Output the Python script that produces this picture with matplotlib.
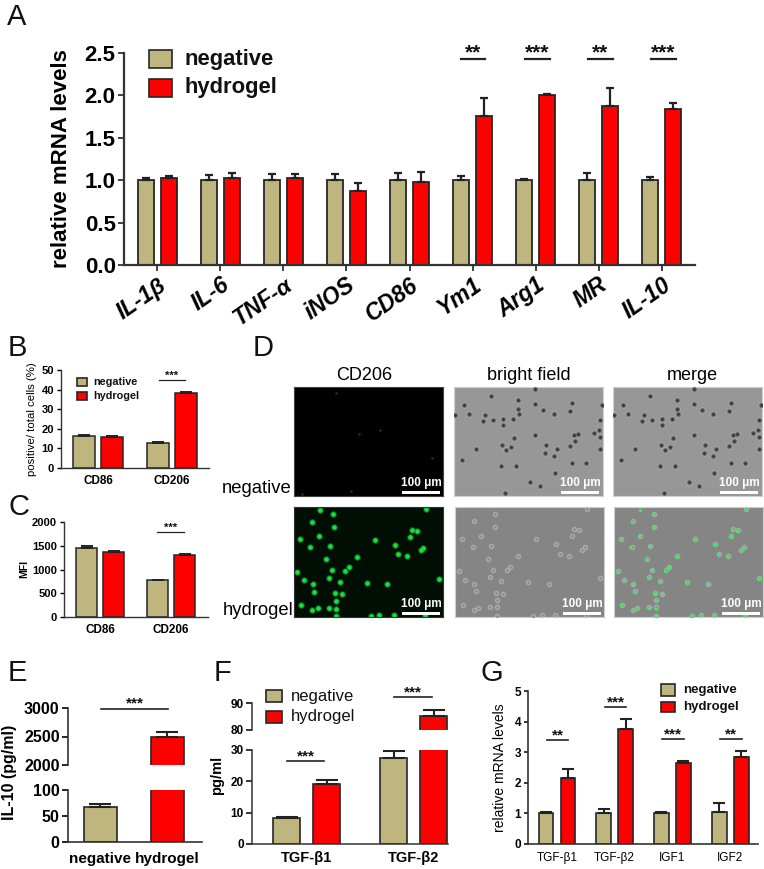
"""Multi-panel macrophage figure: mRNA levels, flow, micrographs and ELISA bars."""

import matplotlib
matplotlib.use("Agg")
import matplotlib.pyplot as plt
from matplotlib.lines import Line2D
from matplotlib.patches import Rectangle
from matplotlib.transforms import ScaledTranslation

W, H = 764, 869
TAN = "#BFB57E"
RED = "#FF0000"
EDGE = "#262626"
plt.rcParams["font.family"] = ["Liberation Sans", "DejaVu Sans"]

# panel A
a_genes = ["IL-1β", "IL-6", "TNF-α", "iNOS", "CD86", "Ym1", "Arg1", "MR", "IL-10"]
a_neg = [1, 1, 1, 1, 1, 1, 1, 1, 1]
a_neg_err = [0.03, 0.06, 0.07, 0.07, 0.09, 0.05, 0.01, 0.09, 0.04]
a_hyd = [1.03, 1.03, 1.03, 0.87, 0.98, 1.76, 2.0, 1.87, 1.84]
a_hyd_err = [0.02, 0.05, 0.04, 0.10, 0.12, 0.21, 0.02, 0.22, 0.07]

# panel B
b_labels = ["CD86", "CD206"]
b_neg = [16.4, 13.0]
b_neg_err = [0.6, 0.2]
b_hyd = [16.0, 38.3]
b_hyd_err = [0.3, 0.7]

# panel C
c_labels = ["CD86", "CD206"]
c_neg = [1450, 775]
c_neg_err = [55, 12]
c_hyd = [1365, 1300]
c_hyd_err = [18, 30]

# panel E
e_labels = ["negative", "hydrogel"]
e_values = [68, 2490]
e_errs = [5, 90]

# panel F
f_labels = ["TGF-β1", "TGF-β2"]
f_neg = [8.3, 27.5]
f_neg_err = [0.3, 2.2]
f_hyd = [19.0, 85.3]
f_hyd_err = [1.3, 2.0]

# panel G
g_labels = ["TGF-β1", "TGF-β2", "IGF1", "IGF2"]
g_neg = [1.0, 1.0, 1.0, 1.03]
g_neg_err = [0.03, 0.15, 0.03, 0.30]
g_hyd = [2.15, 3.77, 2.65, 2.83]
g_hyd_err = [0.31, 0.33, 0.07, 0.20]

green_x = [120, 160, 97, 163, 118, 62, 91, 152, 139, 232, 285, 345, 396, 412, 392, 431, 425, 354, 381, 477,
           195, 207, 157, 72, 100, 104, 147, 180, 167, 187, 170, 261, 323, 65, 114, 98, 148, 170, 52, 438,
           299, 343, 435, 273, 168]
green_y = [480, 492, 517, 533, 557, 567, 592, 589, 628, 620, 570, 585, 541, 543, 561, 593, 600, 613, 619, 688,
           662, 652, 660, 691, 703, 724, 683, 696, 727, 730, 752, 698, 703, 765, 772, 780, 772, 775, 665, 477,
           795, 795, 795, 798, 798]
faint_x = [170, 238, 300, 456, 68, 213]
faint_y = [127, 250, 240, 325, 433, 423]
neg_cell_x = [633, 765, 714, 765, 713, 875, 868, 550, 567, 787, 820, 613, 607, 637, 668, 668, 698, 716, 765, 700,
              880, 893, 940, 955, 960, 885, 665, 677, 692, 587, 797, 795, 830, 822, 870, 960, 546, 663, 706, 876,
              917, 824, 749, 780, 673, 958, 525, 965]
neg_cell_y = [138, 115, 150, 160, 175, 157, 183, 165, 192, 178, 190, 195, 212, 210, 207, 225, 207, 192, 255, 263,
              255, 252, 248, 240, 260, 272, 285, 300, 290, 298, 285, 308, 297, 318, 288, 297, 330, 347, 347, 338,
              338, 370, 396, 408, 430, 210, 195, 165]
hyd_cell_x = [645, 582, 645, 602, 545, 578, 634, 623, 715, 768, 828, 880, 895, 875, 913, 906, 838, 865, 960, 680,
              690, 640, 555, 583, 587, 630, 663, 648, 668, 650, 745, 807, 548, 595, 583, 630, 652, 537, 920, 785,
              825, 917, 758, 650]
hyd_cell_y = [492, 515, 533, 557, 567, 590, 588, 628, 618, 567, 583, 538, 540, 558, 592, 600, 612, 618, 685, 660,
              650, 660, 690, 703, 722, 682, 693, 727, 730, 748, 695, 702, 763, 772, 780, 770, 770, 663, 477, 795,
              795, 795, 798, 798]


def px_axes(fig, x0, y0, x1, y1):
    """Axes from pixel corners, y counted from the top of the picture."""
    return fig.add_axes([x0 / W, 1 - y1 / H, (x1 - x0) / W, (y1 - y0) / H])


def px_text(fig, x, y, s, **kw):
    kw.setdefault("ha", "center")
    kw.setdefault("va", "center")
    return fig.text(x / W, 1 - y / H, s, **kw)


def px_line(fig, x0, x1, y, lw=1.2, color="#222222"):
    fig.add_artist(Line2D([x0 / W, x1 / W], [1 - y / H, 1 - y / H], color=color, lw=lw))


def sig(fig, x0, x1, y, stars, size=12, lw=1.2, dy=6):
    px_line(fig, x0, x1, y, lw=lw)
    px_text(fig, (x0 + x1) / 2, y - dy, stars, fontsize=size, fontweight="bold", color="#111111")


def legend(fig, x0, x1, rows, text_x, size, weight):
    for (y0, y1), color, name in zip(rows, [TAN, RED], ["negative", "hydrogel"]):
        fig.add_artist(Rectangle((x0 / W, 1 - y1 / H), (x1 - x0) / W, (y1 - y0) / H, transform=fig.transFigure,
                                 facecolor=color, edgecolor=EDGE, lw=1.2))
        px_text(fig, text_x, (y0 + y1) / 2, name, ha="left", fontsize=size, fontweight=weight, color="#111111")


def style(ax, lw=1.3):
    for side in ["top", "right"]:
        ax.spines[side].set_visible(False)
    for side in ["left", "bottom"]:
        ax.spines[side].set_linewidth(lw)
        ax.spines[side].set_color("#333333")
    ax.patch.set_alpha(0)


def grouped(ax, neg, neg_err, hyd, hyd_err, width, offset, cap=3, lw=1.1):
    xs = list(range(len(neg)))
    err_kw = {"ecolor": "#222222", "elinewidth": lw + 0.3, "capsize": cap, "capthick": lw + 0.3}
    ax.bar([x - offset for x in xs], neg, width, color=TAN, edgecolor=EDGE, lw=lw,
           yerr=[[0] * len(neg), neg_err], error_kw=err_kw)
    ax.bar([x + offset for x in xs], hyd, width, color=RED, edgecolor=EDGE, lw=lw,
           yerr=[[0] * len(hyd), hyd_err], error_kw=err_kw)


def cells(ax, xs, ys, layers):
    for z, (color, size) in enumerate(layers):
        ax.scatter(xs, ys, s=size, color=color, lw=0, zorder=2 + z)


def scale_bar(ax_fig, x0, x1, y):
    ax_fig.add_artist(Rectangle((x0 / W, 1 - (y + 1.5) / H), (x1 - x0) / W, 3 / H, transform=ax_fig.transFigure,
                                facecolor="white", edgecolor="none", zorder=10))
    px_text(ax_fig, (x0 + x1) / 2, y - 9, "100 μm", color="white", fontsize=8.5, fontweight="bold", zorder=10)


def image_axes(fig, box, xlim, ylim, face, border):
    ax = px_axes(fig, *box)
    ax.set_xlim(*xlim)
    ax.set_ylim(*ylim)
    ax.set_xticks([])
    ax.set_yticks([])
    ax.set_facecolor(face)
    for sp in ax.spines.values():
        sp.set_color(border)
        sp.set_linewidth(0.8)
    return ax


fig = plt.figure(figsize=(W / 100, H / 100), dpi=100, facecolor="white")

# A
ax = px_axes(fig, 124, 53, 695, 265)
grouped(ax, a_neg, a_neg_err, a_hyd, a_hyd_err, 0.254, 0.183, cap=3, lw=1.3)
ax.set_xlim(-0.53, 8.53)
ax.set_ylim(0, 2.5)
ax.set_yticks([0, 0.5, 1.0, 1.5, 2.0, 2.5])
ax.set_yticklabels(["0.0", "0.5", "1.0", "1.5", "2.0", "2.5"], fontsize=16, fontweight="bold")
ax.set_xticks(range(len(a_genes)))
ax.set_xticklabels(a_genes, fontsize=16.5, fontweight="bold", fontstyle="italic", rotation=35, ha="right",
                   rotation_mode="anchor")
shift = ScaledTranslation(-5 / 100, 0, fig.dpi_scale_trans)
for label in ax.get_xticklabels():
    label.set_transform(label.get_transform() + shift)
ax.tick_params(length=4, width=1.3, color="#333333", pad=2)
ax.set_ylabel("relative mRNA levels", fontsize=16, fontweight="bold", labelpad=9)
style(ax, 1.6)
legend(fig, 149, 172, [(50, 68), (79, 97)], 185, 15.8, "bold")
for x0, x1, stars in [(461, 485, "**"), (525, 550, "***"), (588, 613, "**"), (651, 676, "***")]:
    sig(fig, x0, x1, 59, stars, size=15, lw=1.6, dy=6)

# B
ax = px_axes(fig, 61, 370, 209, 468)
grouped(ax, b_neg, b_neg_err, b_hyd, b_hyd_err, 0.29, 0.19, cap=4)
ax.set_xlim(-0.5, 1.5)
ax.set_ylim(0, 50)
ax.set_yticks(range(0, 51, 10))
ax.set_yticklabels(range(0, 51, 10), fontsize=8, fontweight="bold")
ax.set_xticks(range(2))
ax.set_xticklabels(b_labels, fontsize=8.5, fontweight="bold")
ax.tick_params(axis="x", length=0, pad=5)
ax.tick_params(axis="y", length=3, width=1, pad=2)
ax.set_ylabel("positive/ total cells (%)", fontsize=8.2, labelpad=3)
style(ax, 1.0)
legend(fig, 77, 87, [(378, 386), (392, 400)], 93, 7.8, "bold")
sig(fig, 159, 185, 380, "***", size=8, lw=0.9, dy=4)

# C
ax = px_axes(fig, 64, 522, 208, 617)
grouped(ax, c_neg, c_neg_err, c_hyd, c_hyd_err, 0.30, 0.19, cap=4)
ax.set_xlim(-0.507, 1.52)
ax.set_ylim(0, 2000)
ax.set_yticks(range(0, 2001, 500))
ax.set_yticklabels(range(0, 2001, 500), fontsize=8, fontweight="bold")
ax.set_xticks(range(2))
ax.set_xticklabels(c_labels, fontsize=8.5, fontweight="bold")
ax.tick_params(axis="x", length=0, pad=5)
ax.tick_params(axis="y", length=3, width=1, pad=2)
ax.set_ylabel("MFI", fontsize=7.5, fontweight="bold", labelpad=2)
style(ax, 1.0)
sig(fig, 157, 184, 532, "***", size=8, lw=0.9, dy=4)

# D
BF_TOP = "#979797"
BF_LOW = "#858585"
NEG_LAYERS = [("#A9A9A9", 20), ("#626262", 12), ("#2F2F2F", 3)]
HYD_LAYERS = [("#9A9A9A", 18), ("#B6B6B6", 10), ("#8A8A8A", 4)]

ax = image_axes(fig, (294, 387, 443, 496), (43, 490), (438, 110), "black", "#444444")
ax.scatter(faint_x, faint_y, s=3, color="#0B4A12", lw=0)

ax = image_axes(fig, (294, 507, 443, 617), (43, 490), (800, 472), "#010E03", "#333333")
ax.scatter(green_x, green_y, s=24, color="#0A5A1C", lw=0)
ax.scatter(green_x, green_y, s=11, color="#18DC40", lw=0)

ax = image_axes(fig, (454, 387, 603, 496), (521, 968), (438, 110), BF_TOP, "#CFCFCF")
cells(ax, neg_cell_x, neg_cell_y, NEG_LAYERS)

ax = image_axes(fig, (613, 387, 762, 496), (521, 968), (438, 110), BF_TOP, "#CFCFCF")
cells(ax, neg_cell_x, neg_cell_y, NEG_LAYERS)

ax = image_axes(fig, (455, 507, 604, 617), (525, 971), (800, 472), BF_LOW, "#CFCFCF")
cells(ax, hyd_cell_x, hyd_cell_y, HYD_LAYERS)

ax = image_axes(fig, (614, 507, 763, 617), (525, 971), (800, 472), BF_LOW, "#CFCFCF")
cells(ax, hyd_cell_x, hyd_cell_y, HYD_LAYERS)
ax.scatter([x + 482 for x in green_x], green_y, s=6, color="#3EE860", lw=0, zorder=5)

px_text(fig, 364, 375, "CD206", fontsize=13)
px_text(fig, 529, 375, "bright field", fontsize=13)
px_text(fig, 692, 375, "merge", fontsize=13)
px_text(fig, 292, 493, "negative", ha="right", va="baseline", fontsize=13.3)
px_text(fig, 293, 615, "hydrogel", ha="right", va="baseline", fontsize=13.3)
for x0, x1, y in [(402, 440, 492), (561, 599, 492), (720, 758, 492),
                  (402, 440, 613), (563, 601, 613), (722, 760, 613)]:
    scale_bar(fig, x0, x1, y)

# E, broken y axis
e_low = px_axes(fig, 68, 790, 202, 842)
e_up = px_axes(fig, 68, 708, 202, 765)
for ax in [e_low, e_up]:
    ax.bar([0, 1], e_values, 0.49, color=[TAN, RED], edgecolor=EDGE, lw=1.2,
           yerr=[[0, 0], e_errs], error_kw={"ecolor": "#222222", "elinewidth": 1.5, "capsize": 8, "capthick": 1.5})
    ax.set_xlim(-0.485, 1.515)
    style(ax, 1.2)
    ax.tick_params(axis="y", length=4, width=1.2, pad=2, labelsize=11.5)
e_low.set_ylim(0, 100)
e_low.set_yticks([0, 50, 100])
e_low.set_yticklabels([0, 50, 100], fontweight="bold")
e_low.set_xticks([0, 1])
e_low.set_xticklabels(e_labels, fontsize=11, fontweight="bold")
e_low.tick_params(axis="x", length=0, pad=7)
e_up.set_ylim(2000, 3000)
e_up.set_yticks([2000, 2500, 3000])
e_up.set_yticklabels([2000, 2500, 3000], fontweight="bold")
e_up.set_xticks([])
e_up.spines["bottom"].set_visible(False)
px_text(fig, 10, 772, "IL-10 (pg/ml)", rotation=90, fontsize=11.5, fontweight="bold")
sig(fig, 101, 168, 709, "***", size=11, dy=6)

# F, broken y axis
f_low = px_axes(fig, 252, 750, 448, 844)
f_up = px_axes(fig, 252, 703, 448, 730)
for ax in [f_low, f_up]:
    grouped(ax, f_neg, f_neg_err, f_hyd, f_hyd_err, 0.248, 0.187, cap=8, lw=1.2)
    ax.set_xlim(-0.51, 1.32)
    style(ax, 1.1)
    ax.tick_params(axis="y", length=4, width=1.1, pad=2, labelsize=8.5)
f_low.set_ylim(0, 30)
f_low.set_yticks([0, 10, 20, 30])
f_low.set_yticklabels([0, 10, 20, 30], fontweight="bold")
f_low.set_xticks([0, 1])
f_low.set_xticklabels(f_labels, fontsize=10.5, fontweight="bold")
f_low.tick_params(axis="x", length=0, pad=5)
f_up.set_ylim(80, 90)
f_up.set_yticks([80, 90])
f_up.set_yticklabels([80, 90], fontweight="bold")
f_up.set_xticks([])
f_up.spines["bottom"].set_visible(False)
px_text(fig, 217, 775, "pg/ml", rotation=90, fontsize=10.5, fontweight="bold")
legend(fig, 266, 282, [(690, 702), (711, 723)], 291, 12, "normal")
sig(fig, 394, 432, 697, "***", size=11, dy=5)
sig(fig, 287, 324, 761, "***", size=11, dy=5)

# G
ax = px_axes(fig, 528, 691, 758, 844)
grouped(ax, g_neg, g_neg_err, g_hyd, g_hyd_err, 0.254, 0.19, cap=4, lw=1.2)
ax.set_xlim(-0.5, 3.48)
ax.set_ylim(0, 5)
ax.set_yticks(range(6))
ax.set_yticklabels(range(6), fontsize=8.5, fontweight="bold")
ax.set_xticks(range(4))
ax.set_xticklabels(g_labels, fontsize=8.5, fontweight="normal")
ax.tick_params(axis="x", length=0, pad=6)
ax.tick_params(axis="y", length=3, width=1.1, pad=2)
ax.set_ylabel("relative mRNA levels", fontsize=10, fontweight="normal", labelpad=5)
style(ax, 1.2)
legend(fig, 661, 675, [(684, 696), (702, 712)], 683, 9.5, "bold")
for x0, x1, y, stars in [(547, 568, 740, "**"), (605, 626, 707, "***"), (662, 684, 739, "***"), (720, 742, 739, "**")]:
    sig(fig, x0, x1, y, stars, size=11, dy=5)

# panel letters
for x, y, letter in [(7, 25, "A"), (8, 356, "B"), (8, 515, "C"), (253, 356, "D"),
                     (8, 681, "E"), (214, 681, "F"), (480, 681, "G")]:
    px_text(fig, x, y, letter, ha="left", va="baseline", fontsize=21, color="#111111")

fig.savefig("out.png", dpi=100)
